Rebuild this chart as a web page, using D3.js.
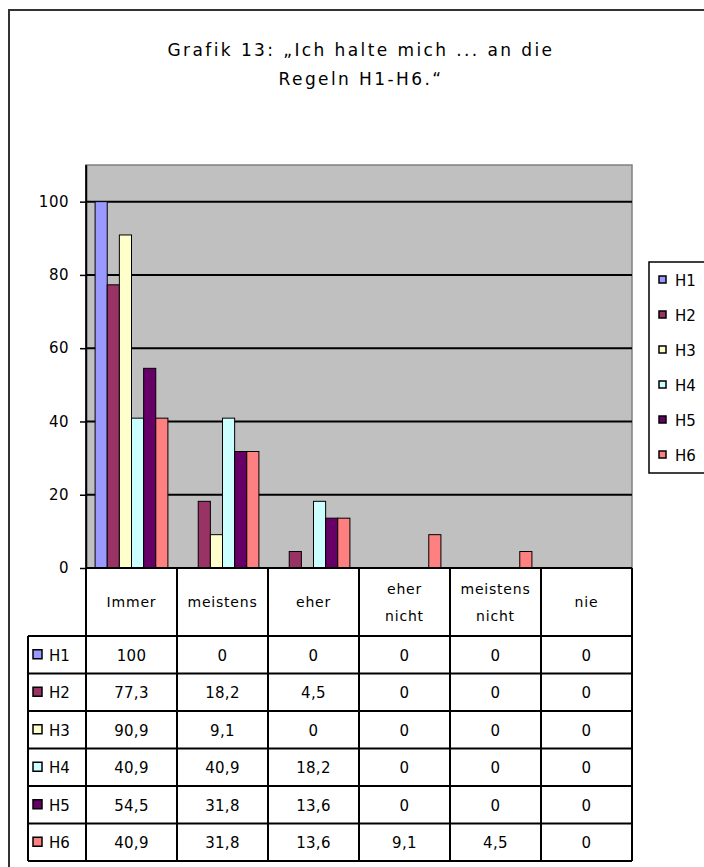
<!DOCTYPE html>
<html lang="de">
<head>
    <meta charset="UTF-8">
    <title>Grafik 13</title>
    <script src="https://d3js.org/d3.v7.min.js"></script>
    <style>
        body { margin: 0; background: #fff; }
        text { font-family: "DejaVu Sans", "Liberation Sans", Arial, sans-serif; fill: #000; }
    </style>
</head>
<body>
<svg id="chart" width="704" height="867"></svg>

<script>
    // Daten aus der Grafik
    const categories = ["Immer", "meistens", "eher", "eher nicht", "meistens nicht", "nie"];
    const seriesNames = ["H1", "H2", "H3", "H4", "H5", "H6"];
    const H1 = [100, 0, 0, 0, 0, 0];
    const H2 = [77.3, 18.2, 4.5, 0, 0, 0];
    const H3 = [90.9, 9.1, 0, 0, 0, 0];
    const H4 = [40.9, 40.9, 18.2, 0, 0, 0];
    const H5 = [54.5, 31.8, 13.6, 0, 0, 0];
    const H6 = [40.9, 31.8, 13.6, 9.1, 4.5, 0];
    const seriesColors = ["#9999FF", "#993366", "#FFFFCC", "#CCFFFF", "#660066", "#FF8080"];
    const yTicks = [0, 20, 40, 60, 80, 100];
    const titleLines = ["Grafik 13: \u201EIch halte mich ... an die", "Regeln H1-H6.\u201C"];

    const seriesValues = [H1, H2, H3, H4, H5, H6];

    const svg = d3.select("#chart");

    // Rahmen
    svg.append("rect")
        .attr("x", 9).attr("y", 10)
        .attr("width", 720).attr("height", 880)
        .attr("fill", "none")
        .attr("stroke", "#333")
        .attr("stroke-width", 2);

    // Titel
    svg.selectAll(".title")
        .data(titleLines)
        .join("text")
        .attr("class", "title")
        .attr("x", 361)
        .attr("y", (d, i) => 56 + i * 29)
        .attr("text-anchor", "middle")
        .attr("font-size", 17)
        .attr("letter-spacing", 2.4)
        .text(d => d);

    const plot = { left: 86, right: 632, top: 165, bottom: 568 };

    const x = d3.scaleBand()
        .domain(categories)
        .range([plot.left, plot.right])
        .paddingInner(0.2)
        .paddingOuter(0.1);

    const xSeries = d3.scaleBand()
        .domain(seriesNames)
        .range([0, x.bandwidth()]);

    const y = d3.scaleLinear()
        .domain([0, 110])
        .range([plot.bottom, plot.top]);

    // Zeichenfläche
    svg.append("rect")
        .attr("x", plot.left).attr("y", plot.top)
        .attr("width", plot.right - plot.left)
        .attr("height", plot.bottom - plot.top)
        .attr("fill", "#C0C0C0")
        .attr("stroke", "#808080")
        .attr("stroke-width", 1.5);

    // Gitternetzlinien
    svg.selectAll(".grid")
        .data(yTicks)
        .join("line")
        .attr("class", "grid")
        .attr("x1", plot.left).attr("x2", plot.right)
        .attr("y1", d => y(d)).attr("y2", d => y(d))
        .attr("stroke", "#000")
        .attr("stroke-width", 2);

    // Balken
    const groups = svg.append("g")
        .selectAll("g")
        .data(seriesNames)
        .join("g")
        .attr("fill", (d, i) => seriesColors[i]);

    groups.selectAll("rect")
        .data((s, si) => categories.map((c, ci) => ({ c, s, v: seriesValues[si][ci] })))
        .join("rect")
        .attr("x", d => x(d.c) + xSeries(d.s))
        .attr("y", d => y(d.v))
        .attr("width", xSeries.bandwidth())
        .attr("height", d => y(0) - y(d.v))
        .attr("stroke", "#000")
        .attr("stroke-width", 1);

    // Y-Achse
    const yAxis = svg.append("g")
        .attr("transform", `translate(${plot.left},0)`)
        .call(d3.axisLeft(y).tickValues(yTicks).tickSize(6).tickPadding(11).tickSizeOuter(0));
    yAxis.select(".domain").attr("stroke", "#000").attr("stroke-width", 1.5);
    yAxis.selectAll(".tick line").attr("stroke", "#000").attr("stroke-width", 1.5);
    yAxis.selectAll(".tick text")
        .attr("font-size", 15)
        .attr("font-family", "DejaVu Sans, Liberation Sans, Arial, sans-serif")
        .attr("letter-spacing", 0.5)
        .attr("fill", "#000");
    svg.append("line")
        .attr("x1", plot.left).attr("x2", plot.left)
        .attr("y1", plot.top).attr("y2", plot.bottom)
        .attr("stroke", "#000").attr("stroke-width", 1.5);

    // Datentabelle
    const table = { left: 28, headTop: plot.bottom, rowTop: 636, rowH: 37.5 };
    const tableBottom = table.rowTop + seriesNames.length * table.rowH;
    const colEdges = categories.map(c => x(c) - x.step() * x.paddingInner() / 2).concat([plot.right]);

    const tg = svg.append("g").attr("stroke", "#000").attr("stroke-width", 2);

    // senkrechte Linien
    tg.selectAll(".vline")
        .data(colEdges)
        .join("line")
        .attr("x1", d => d).attr("x2", d => d)
        .attr("y1", table.headTop).attr("y2", tableBottom);
    tg.append("line")
        .attr("x1", table.left).attr("x2", table.left)
        .attr("y1", table.rowTop).attr("y2", tableBottom);

    // waagerechte Linien
    tg.selectAll(".hline")
        .data(d3.range(seriesNames.length + 1))
        .join("line")
        .attr("x1", table.left).attr("x2", plot.right)
        .attr("y1", i => table.rowTop + i * table.rowH)
        .attr("y2", i => table.rowTop + i * table.rowH);
    tg.append("line")
        .attr("x1", plot.left).attr("x2", plot.right)
        .attr("y1", table.headTop).attr("y2", table.headTop);

    // Kopfzeile
    const headMid = (table.headTop + table.rowTop) / 2;
    categories.forEach(c => {
        const lines = c.split(" ");
        const cx = x(c) + x.bandwidth() / 2;
        lines.forEach((l, i) => {
            svg.append("text")
                .attr("x", cx)
                .attr("y", headMid + (i - (lines.length - 1) / 2) * 27 + 5)
                .attr("text-anchor", "middle")
                .attr("font-size", 14)
                .attr("letter-spacing", 0.8)
                .text(l);
        });
    });

    // Zeilen
    seriesNames.forEach((s, si) => {
        const cy = table.rowTop + si * table.rowH + table.rowH / 2;
        svg.append("rect")
            .attr("x", 33).attr("y", cy - 5)
            .attr("width", 9).attr("height", 9)
            .attr("fill", seriesColors[si])
            .attr("stroke", "#000").attr("stroke-width", 1.5);
        svg.append("text")
            .attr("x", 49).attr("y", cy + 6)
            .attr("font-size", 15)
            .text(s);
        categories.forEach((c, ci) => {
            svg.append("text")
                .attr("x", x(c) + x.bandwidth() / 2)
                .attr("y", cy + 6)
                .attr("text-anchor", "middle")
                .attr("font-size", 15)
                .attr("letter-spacing", 0.3)
                .text(String(seriesValues[si][ci]).replace(".", ","));
        });
    });

    // Legende
    const legend = svg.append("g");
    legend.append("rect")
        .attr("x", 649).attr("y", 262)
        .attr("width", 70).attr("height", 211)
        .attr("fill", "#fff")
        .attr("stroke", "#000").attr("stroke-width", 1.5);
    seriesNames.forEach((s, i) => {
        const ly = 280 + i * 35;
        legend.append("rect")
            .attr("x", 659).attr("y", ly - 4)
            .attr("width", 7).attr("height", 7)
            .attr("fill", seriesColors[i])
            .attr("stroke", "#000").attr("stroke-width", 1.5);
        legend.append("text")
            .attr("x", 675).attr("y", ly + 6)
            .attr("font-size", 15)
            .text(s);
    });
</script>
</body>
</html>
